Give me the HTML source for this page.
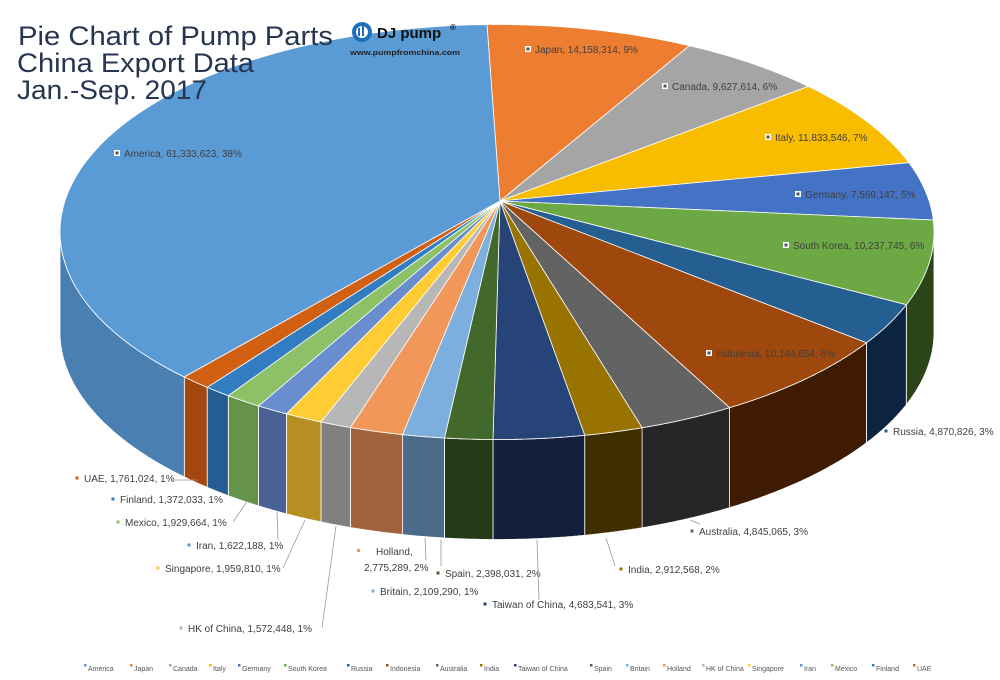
<!DOCTYPE html>
<html><head><meta charset="utf-8"><style>
html,body{margin:0;padding:0;background:#fff;}
svg{display:block;font-family:"Liberation Sans",sans-serif;}
</style></head><body>
<svg id="s" width="1000" height="680" viewBox="0 0 1000 680" xmlns="http://www.w3.org/2000/svg">
<g id="sides"></g><g id="tops"></g>
<g fill="#263650" font-size="27">
<text x="18" y="45" textLength="315" lengthAdjust="spacingAndGlyphs">Pie Chart of Pump Parts</text>
<text x="17" y="72" textLength="237" lengthAdjust="spacingAndGlyphs">China Export Data</text>
<text x="17" y="99" textLength="190" lengthAdjust="spacingAndGlyphs">Jan.-Sep. 2017</text>
</g>
<g>
<circle cx="362" cy="32" r="10" fill="#1f6fb8"/>
<circle cx="362" cy="32" r="6" fill="#fff"/>
<rect x="358" y="28" width="2" height="8" fill="#1f6fb8"/><rect x="362" y="26" width="2" height="10" fill="#1f6fb8"/>
<text x="377" y="38" font-size="15" font-weight="bold" fill="#111">DJ pump</text>
<text x="450" y="30" font-size="8" font-weight="bold" fill="#111">®</text>
<text x="350" y="55" font-size="7.5" font-weight="bold" fill="#222" textLength="110" lengthAdjust="spacingAndGlyphs">www.pumpfromchina.com</text>
</g>
<g id="lbl" font-size="10" fill="#404040"></g>
<g id="lines" stroke="#999" stroke-width="0.8" fill="none"></g>
<g id="leg" font-size="7" fill="#555"></g>
</svg>
<script>
(function(){
var cx=497,cy=232,rx=437,ry=207.5,D=100,ax=500,ay=201;
var S=[
["Japan","#ED7D31","#b85f24",687,48],
["Canada","#A5A5A5","#7c7c7c",805,88],
["Italy","#F8BD00","#bb8f00",907,163],
["Germany","#4472C4","#2f5190",934,220],
["South Korea","#6CA843","#2a4517",908,305],
["Russia","#255E91","#0d2440",867,343],
["Indonesia","#9E480E","#3f1b02",730,408],
["Australia","#636363","#262626",643,429],
["India","#997300","#3f2f00",585,436],
["Taiwan of China","#264478","#131f3c",493,440],
["Spain","#43682B","#233a16",444,440],
["Britain","#7CAFDD","#4a6b8a",402,436],
["Holland","#F1975A","#a0623c",350,428],
["HK of China","#B7B7B7","#808080",320,423],
["Singapore","#FFCD33","#b58f22",285,415],
["Iran","#698ED0","#4a6196",257,407],
["Mexico","#8CC168","#66934a",226,397],
["Finland","#327DC2","#235d92",206,388],
["UAE","#D26012","#a3470e",182,378],
["America","#5B9BD5","#4a7fb2",487,25]
];
function ang(x,y){var a=Math.atan2((x-cx)/rx,-(y-cy)/ry);if(a<0)a+=2*Math.PI;return a;}
function pt(t,d){return [cx+rx*Math.sin(t),cy-ry*Math.cos(t)+(d||0)];}
var NS="http://www.w3.org/2000/svg";
function el(g,tag,at,txt){var e=document.createElementNS(NS,tag);for(var k in at)e.setAttribute(k,at[k]);if(txt)e.textContent=txt;document.getElementById(g).appendChild(e);return e;}
var prev=ang(487,25);
for(var i=0;i<S.length;i++){
 var t0=prev,t1=ang(S[i][3],S[i][4]);if(t1<=t0)t1+=2*Math.PI;
 var pts=[],N=60;
 for(var k=0;k<=N;k++){pts.push(pt(t0+(t1-t0)*k/N));}
 var d="M"+ax+","+ay+" "+pts.map(function(p){return "L"+p[0].toFixed(1)+","+p[1].toFixed(1);}).join(" ")+"Z";
 el("tops","path",{d:d,fill:S[i][1],stroke:"#fff","stroke-width":"0.8","stroke-linejoin":"round"});
 var a=Math.max(t0,Math.PI/2),b=Math.min(t1,1.5*Math.PI);
 if(i==S.length-1){a=Math.max(t0%(2*Math.PI),Math.PI/2);b=1.5*Math.PI;}
 if(b>a){
  var tp=[],bt=[];
  for(var k=0;k<=N;k++){var t=a+(b-a)*k/N;tp.push(pt(t));bt.push(pt(t,D));}
  bt.reverse();
  var sd="M"+tp.concat(bt).map(function(p){return p[0].toFixed(1)+","+p[1].toFixed(1);}).join(" L")+"Z";
  el("sides","path",{d:sd,fill:S[i][2],stroke:"#fff","stroke-width":"0.8"});
 }
 prev=t1%(2*Math.PI);
}
var L=[
["America, 61,333,623, 38%",117,153,1],["Japan, 14,158,314, 9%",528,49,1],["Canada, 9,627,614, 6%",665,86,1],
["Italy, 11,833,546, 7%",768,137,1],["Germany, 7,569,147, 5%",798,194,1],["South Korea, 10,237,745, 6%",786,245,1],
["Indonesia, 10,144,654, 6%",709,353,1],
["Russia, 4,870,826, 3%",886,431,0,"#255E91"],["Australia, 4,845,065, 3%",692,531,0,"#636363"],["India, 2,912,568, 2%",621,569,0,"#997300"],
["Taiwan of China, 4,683,541, 3%",485,604,0,"#264478"],["Spain, 2,398,031, 2%",438,573,0,"#43682B"],["Britain, 2,109,290, 1%",373,591,0,"#7CAFDD"],
["HK of China, 1,572,448, 1%",181,628,0,"#B7B7B7"],["Singapore, 1,959,810, 1%",158,568,0,"#FFCD33"],["Iran, 1,622,188, 1%",189,545,0,"#698ED0"],
["Mexico, 1,929,664, 1%",118,522,0,"#8CC168"],["Finland, 1,372,033, 1%",113,499,0,"#327DC2"],["UAE, 1,761,024, 1%",77,478,0,"#D26012"]
];
L.forEach(function(l){
 if(l[3]){el("lbl","rect",{x:l[1]-3,y:l[2]-3,width:6,height:6,fill:"#fff"});el("lbl","rect",{x:l[1]-1.5,y:l[2]-1.5,width:3,height:3,fill:"#555"});}
 else el("lbl","rect",{x:l[1]-1.5,y:l[2]-1.5,width:3,height:3,fill:l[4]});
 el("lbl","text",{x:l[1]+7,y:l[2]+4},l[0]);
});
el("lbl","rect",{x:357,y:549,width:3,height:3,fill:"#F1975A"});
el("lbl","text",{x:376,y:555},"Holland,");
el("lbl","text",{x:364,y:571},"2,775,289, 2%");
["M172,480 L198,480","M233,522 L248,500","M278,540 L277,512","M283,568 L305,520","M322,628 L336,526","M426,560 L425,538","M441,566 L441,540","M539,600 L537,540","M615,566 L606,538","M700,524 L690,520"].forEach(function(p){el("lines","path",{d:p});});
var LX=[86,132,171,211,240,286,349,388,438,482,516,592,628,665,704,750,802,833,874,915];
var order=[19,0,1,2,3,4,5,6,7,8,9,10,11,12,13,14,15,16,17,18];
order.forEach(function(idx,j){
 var x=LX[j];el("leg","rect",{x:x-2,y:664,width:2.5,height:2.5,fill:S[idx][1]});
 el("leg","text",{x:x+2,y:671},S[idx][0]);
});
})();
</script>
</body></html>
